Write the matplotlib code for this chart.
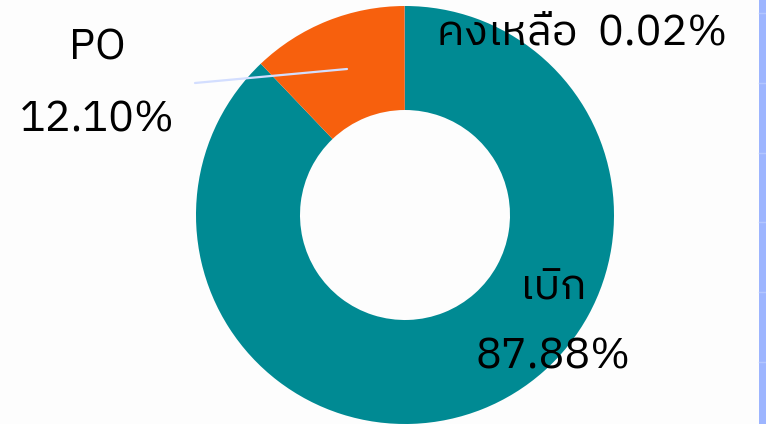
import matplotlib
matplotlib.use("Agg")
import matplotlib.pyplot as plt
from matplotlib import font_manager
from matplotlib.ft2font import FT2Font
from matplotlib.patches import Rectangle

labels = ["เบิก", "PO", "คงเหลือ"]
shares = [87.88, 12.10, 0.02]
colors = ["#008A93", "#F7600D", "#4F9BD9"]


def find_thai_font():
    # pick an installed font that has Thai glyphs
    preferred = []
    others = []
    for f in font_manager.fontManager.ttflist:
        try:
            cmap = FT2Font(f.fname).get_charmap()
        except Exception:
            continue
        if ord("ค") in cmap and ord("0") in cmap:
            if "Thai" in f.name and "Looped" not in f.name:
                preferred.append(f.name)
            else:
                others.append(f.name)
    if preferred:
        return preferred[0]
    if others:
        return others[0]
    return None


thai = find_thai_font()
fams = [thai, "DejaVu Sans"] if thai else ["DejaVu Sans"]
plt.rcParams["font.family"] = fams

W, H = 766, 424
fig = plt.figure(figsize=(W / 100, H / 100), dpi=100)
fig.patch.set_facecolor("#FDFDFD")
ax = fig.add_axes([0, 0, 1, 1])

cx, cy, r = 405, H - 215, 209
ax.pie(shares, colors=colors, startangle=90, counterclock=False,
       radius=r, center=(cx, cy), frame=True,
       wedgeprops=dict(width=104, edgecolor="none"))
ax.set_xlim(0, W)
ax.set_ylim(0, H)
ax.set_aspect("equal")
ax.axis("off")

# leader line for PO
ax.plot([195, 347], [H - 83, H - 69], color="#D3DEFF", lw=1.6, solid_capstyle="round")

fs = 31
ax.text(97, H - 48, labels[1], fontsize=fs, ha="center", va="center")
ax.text(97, H - 120, f"{shares[1]:.2f}%", fontsize=fs, ha="center", va="center")
ax.text(553, H - 288, labels[0], fontsize=fs, ha="center", va="center")
ax.text(553, H - 357, f"{shares[0]:.2f}%", fontsize=fs, ha="center", va="center")
ax.text(582, H - 33, f"{labels[2]}  {shares[2]:.2f}%", fontsize=fs,
        ha="center", va="center")

# side bar on the right edge
ax.add_patch(Rectangle((759, 0), 7, H, color="#9DB5FF", lw=0))
for y in [13, 83, 153, 222, 292, 362]:
    ax.plot([759, 766], [H - y, H - y], color="#B3C6FF", lw=1)

fig.savefig("out.png", dpi=100, facecolor=fig.get_facecolor())
